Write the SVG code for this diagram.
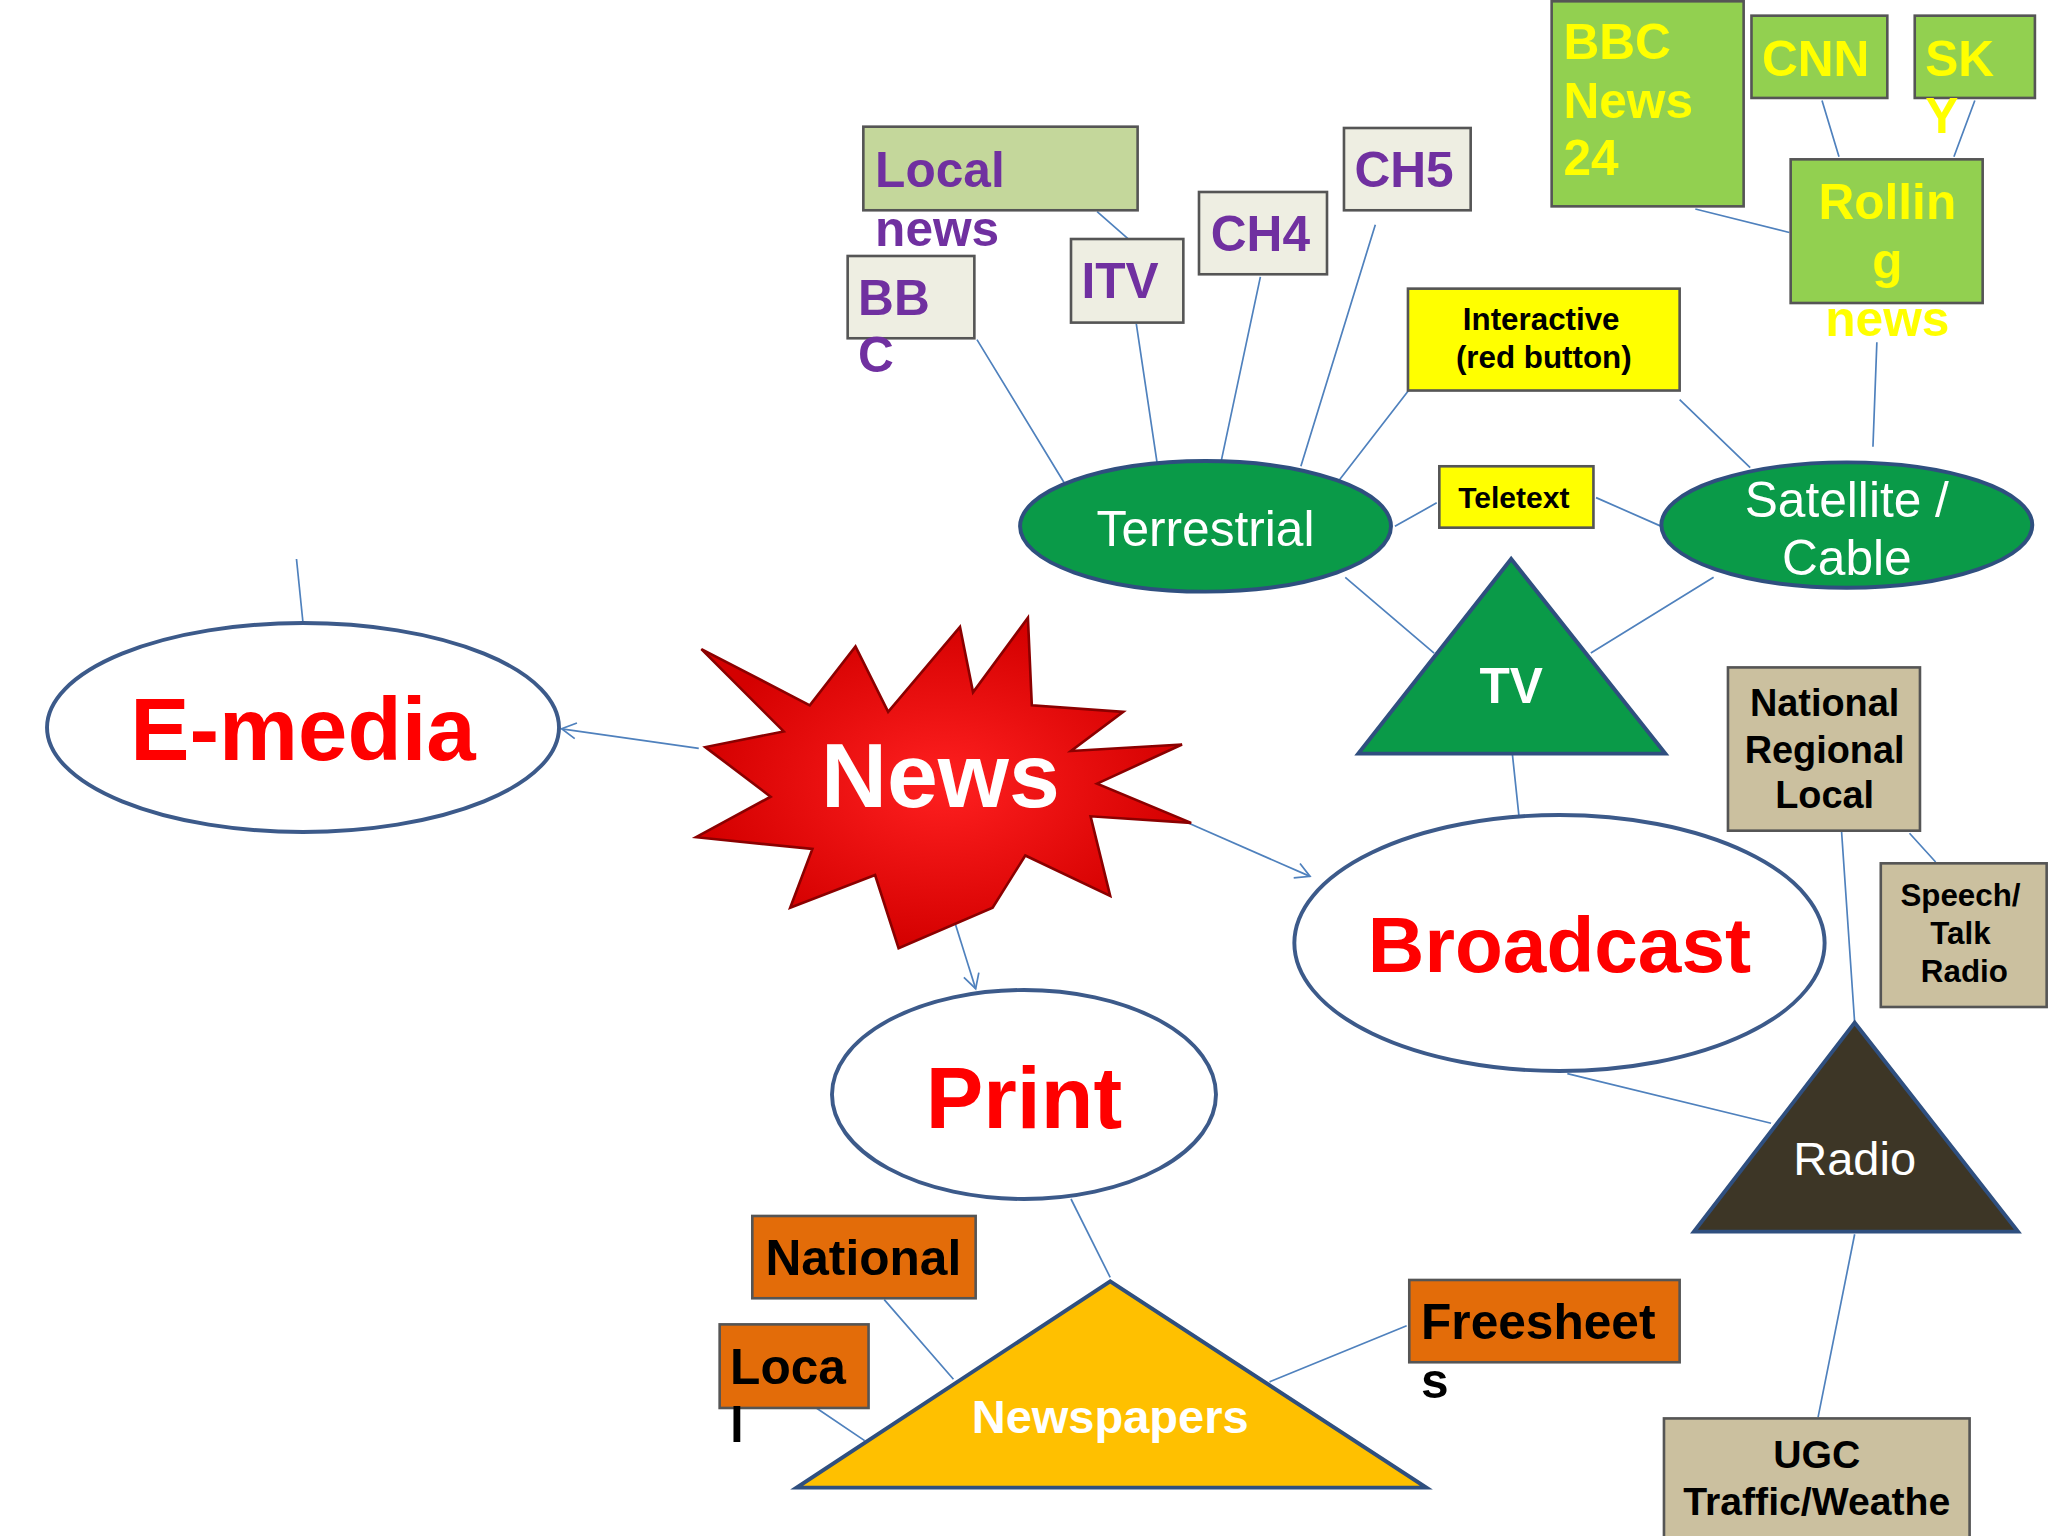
<svg xmlns="http://www.w3.org/2000/svg" width="2048" height="1536" viewBox="0 0 2048 1536">
<style>
text{font-family:"Liberation Sans",Arial,sans-serif}
.b{font-weight:bold}
.ln{stroke:#4f81bd;stroke-width:1.3;fill:none}
.ell{fill:#fff;stroke:#3c5a8a;stroke-width:3}
.g{fill:#0a9a48;stroke:#2f4f7f;stroke-width:3}
.box{stroke:#555;stroke-width:2}
.pu{fill:#7030a0;font-weight:bold;font-size:38px}
.ye{fill:#ffff00;font-weight:bold;font-size:38px}
.tan{fill:#cbc09f}
.or{fill:#e36c09}
</style>
<defs><marker id="a" markerWidth="14" markerHeight="14" refX="12" refY="7" orient="auto" markerUnits="userSpaceOnUse"><path d="M1,1 L12,7 L1,13" fill="none" stroke="#4f81bd" stroke-width="1.3"/></marker>
<radialGradient id="rg"><stop offset="0" stop-color="#ff2020"/><stop offset="1" stop-color="#d40000"/></radialGradient></defs>
<rect width="2048" height="1536" fill="#fff"/>
<g transform="scale(1.3061)">
<g id="connectors">
<path class="ln" d="M227,428L232,477"/>
<path class="ln" d="M535,573L430,558" marker-end="url(#a)"/>
<path class="ln" d="M905,628L1003,671" marker-end="url(#a)"/>
<path class="ln" d="M715,655L747,757" marker-end="url(#a)"/>
<path class="ln" d="M748,260L815,370M870,248L886,355M965,212L935,353M1053,172L996,357M1090,284L1025,368M840,162L864,183"/>
<path class="ln" d="M1068,403L1100,385M1222,381L1272,403M1286,306L1340,358M1437,262L1434,342M1298,160L1370,178M1395,77L1408,120M1512,77L1496,120"/>
<path class="ln" d="M1030,442L1098,500M1312,442L1218,500M1158,578L1163,625M1200,822L1356,860M1410,637L1420,783M1462,638L1482,660M1420,945L1392,1085"/>
<path class="ln" d="M820,918L850,978M677,995L730,1056M625,1078L662,1103M1077,1015L972,1058"/>
</g>
<g id="emedia"><ellipse class="ell" cx="232" cy="557" rx="196" ry="80"/><text x="232" y="582" font-size="68" class="b" fill="#f00" text-anchor="middle">E-media</text></g>
<g id="news"><polygon points="537,497 620,540 655,495 680,545 735,480 745,530 787,473 790,540 860,545 820,575 905,570 840,600 912,630 835,625 850,686 785,655 760,695 688,726 670,670 605,695 622,650 533,641 590,610 540,572 600,560" fill="url(#rg)" stroke="#8b0000" stroke-width="2"/><text x="720" y="618" font-size="70" class="b" fill="#fff" text-anchor="middle">News</text></g>
<g id="broadcast"><ellipse class="ell" cx="1194" cy="722" rx="203" ry="98"/><text x="1194" y="744" font-size="60" class="b" fill="#f00" text-anchor="middle">Broadcast</text></g>
<g id="print"><ellipse class="ell" cx="784" cy="838" rx="147" ry="80"/><text x="784" y="864" font-size="66" class="b" fill="#f00" text-anchor="middle">Print</text></g>
<g id="tv"><polygon class="g" points="1157,428 1040,577 1275,577"/><text x="1157" y="538" font-size="38" class="b" fill="#fff" text-anchor="middle">TV</text></g>
<g id="terrestrial"><ellipse class="g" cx="923" cy="403" rx="142" ry="50"/><text x="923" y="418" font-size="38" fill="#fff" text-anchor="middle">Terrestrial</text></g>
<g id="satellite"><ellipse class="g" cx="1414" cy="402" rx="142" ry="48"/><text x="1414" y="396" font-size="38" fill="#fff" text-anchor="middle">Satellite /</text><text x="1414" y="440" font-size="38" fill="#fff" text-anchor="middle">Cable</text></g>
<g id="teletext"><rect class="box" x="1102" y="357" width="118" height="47" fill="#ff0"/><text x="1159" y="389" font-size="23" class="b" text-anchor="middle">Teletext</text></g>
<g id="interactive"><rect class="box" x="1078" y="221" width="208" height="78" fill="#ff0"/><text x="1180" y="253" font-size="24" class="b" text-anchor="middle">Interactive</text><text x="1182" y="282" font-size="24" class="b" text-anchor="middle">(red button)</text></g>
<g id="localnews"><rect class="box" x="661" y="97" width="210" height="64" fill="#c4d79b"/><text x="670" y="143" class="pu">Local</text><text x="670" y="188" class="pu">news</text></g>
<g id="bbc"><rect class="box" x="649" y="196" width="97" height="63" fill="#eeeee2"/><text x="657" y="241" class="pu">BB</text><text x="657" y="285" class="pu">C</text></g>
<g id="itv"><rect class="box" x="820" y="183" width="86" height="64" fill="#eeeee2"/><text x="828" y="228" class="pu">ITV</text></g>
<g id="ch4"><rect class="box" x="918" y="147" width="98" height="63" fill="#eeeee2"/><text x="927" y="192" class="pu">CH4</text></g>
<g id="ch5"><rect class="box" x="1029" y="98" width="97" height="63" fill="#eeeee2"/><text x="1037" y="143" class="pu">CH5</text></g>
<g id="bbcnews24"><rect class="box" x="1188" y="1" width="147" height="157" fill="#92d050"/><text x="1197" y="45" class="ye">BBC</text><text x="1197" y="90" class="ye">News</text><text x="1197" y="134" class="ye">24</text></g>
<g id="cnn"><rect class="box" x="1341" y="12" width="104" height="63" fill="#92d050"/><text x="1349" y="58" class="ye">CNN</text></g>
<g id="sky"><rect class="box" x="1466" y="12" width="92" height="63" fill="#92d050"/><text x="1474" y="58" class="ye">SK</text><text x="1474" y="102" class="ye">Y</text></g>
<g id="rolling"><rect class="box" x="1371" y="122" width="147" height="110" fill="#92d050"/><text x="1445" y="168" class="ye" text-anchor="middle">Rollin</text><text x="1445" y="213" class="ye" text-anchor="middle">g</text><text x="1445" y="257" class="ye" text-anchor="middle">news</text></g>
<g id="nrl"><rect class="box tan" x="1323" y="511" width="147" height="125"/><text x="1397" y="548" font-size="29" class="b" text-anchor="middle">National</text><text x="1397" y="584" font-size="29" class="b" text-anchor="middle">Regional</text><text x="1397" y="619" font-size="29" class="b" text-anchor="middle">Local</text></g>
<g id="speech"><rect class="box tan" x="1440" y="661" width="127" height="110"/><text x="1501" y="694" font-size="24" class="b" text-anchor="middle">Speech/</text><text x="1501" y="723" font-size="24" class="b" text-anchor="middle">Talk</text><text x="1504" y="752" font-size="24" class="b" text-anchor="middle">Radio</text></g>
<g id="radio"><polygon points="1420,783 1297,943 1545,943" fill="#3d3626" stroke="#2f4f7f" stroke-width="3"/><text x="1420" y="900" font-size="36" fill="#fff" text-anchor="middle">Radio</text></g>
<g id="ugc"><rect class="box tan" x="1274" y="1086" width="234" height="95"/><text x="1391" y="1124" font-size="30" class="b" text-anchor="middle">UGC</text><text x="1391" y="1160" font-size="30" class="b" text-anchor="middle">Traffic/Weathe</text></g>
<g id="newspapers"><polygon points="850,981 610,1139 1092,1139" fill="#ffc000" stroke="#2f4f7f" stroke-width="3"/><text x="850" y="1097" font-size="36" class="b" fill="#fff" text-anchor="middle">Newspapers</text></g>
<g id="national"><rect class="box or" x="576" y="931" width="171" height="63"/><text x="661" y="976" font-size="38" class="b" text-anchor="middle">National</text></g>
<g id="local"><rect class="box or" x="551" y="1014" width="114" height="64"/><text x="559" y="1060" font-size="38" class="b">Loca</text><text x="559" y="1104" font-size="38" class="b">l</text></g>
<g id="freesheets"><rect class="box or" x="1079" y="980" width="207" height="63"/><text x="1088" y="1025" font-size="38" class="b">Freesheet</text><text x="1088" y="1070" font-size="38" class="b">s</text></g>
</g>
</svg>
